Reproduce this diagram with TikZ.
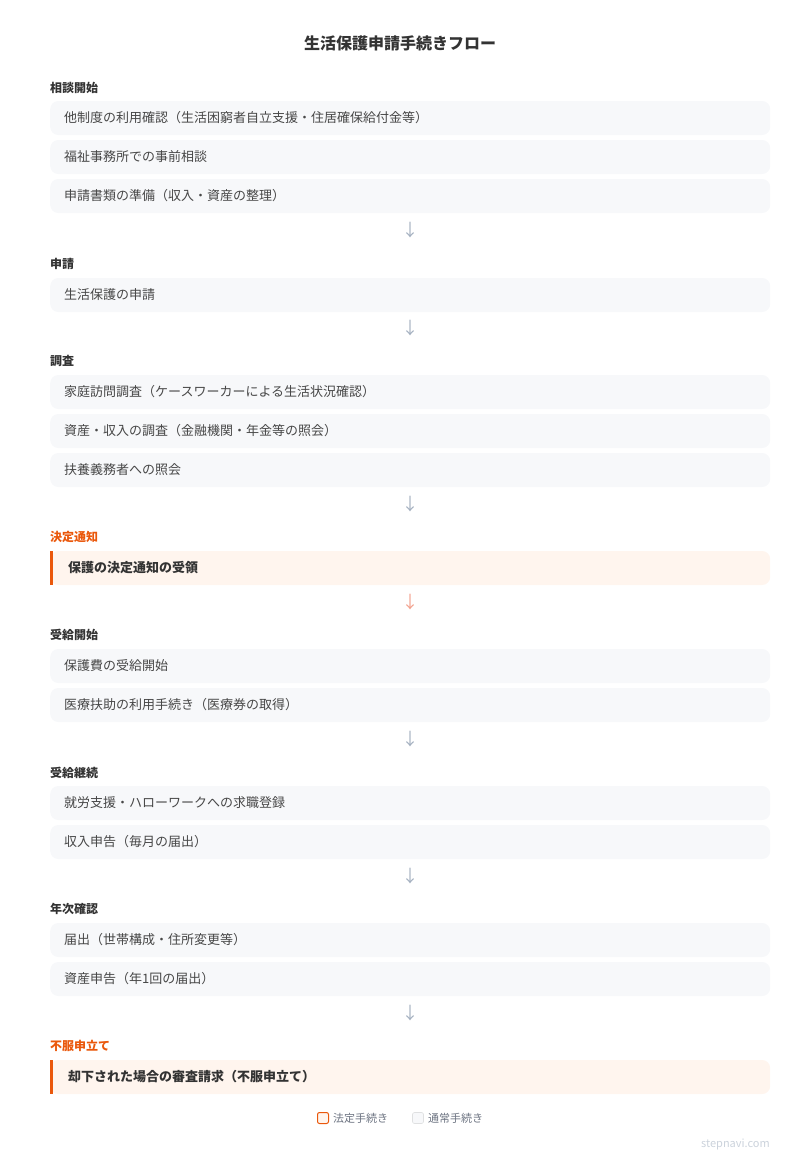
\documentclass[tikz,border=0pt]{standalone}
\usepackage{fontspec}
\setmainfont{Noto Sans CJK JP}
\usetikzlibrary{positioning}
\definecolor{txt}{HTML}{333333}
\definecolor{boxbg}{HTML}{F7F8FA}
\definecolor{accent}{HTML}{EA580C}
\definecolor{accentbg}{HTML}{FFF5EE}
\definecolor{arrowgray}{HTML}{A3AFBF}
\definecolor{arrowred}{HTML}{F2A08C}
\definecolor{legendtxt}{HTML}{6B7280}
\definecolor{stamp}{HTML}{CBD2DB}
\tikzset{
	steplabel/.style={anchor=west, inner sep=0pt, font=\fontsize{12}{14}\selectfont\bfseries, text=txt},
	stepbox/.style={anchor=west, fill=boxbg, rounded corners=8pt, minimum height=34pt, text width=692pt, inner xsep=14pt, inner ysep=0pt, align=left, font=\fontsize{13}{15}\selectfont, text=txt!90},
	legalbox/.style={stepbox, fill=accentbg, text width=684pt, inner xsep=18pt, align=left, font=\fontsize{13}{15}\selectfont\bfseries, text=txt},
	flowarrow/.style={inner sep=0pt, font=\fontsize{17}{17}\selectfont, text=arrowgray},
}
\begin{document}
\begin{tikzpicture}[x=1pt,y=1pt,yscale=-1,xscale=1]
	\useasboundingbox (0,0) rectangle (800,1171);
	% Title
	\node (title) [inner sep=0pt, font=\fontsize{16}{18}\selectfont\bfseries, text=txt] at (400,43) {生活保護申請手続きフロー};
	
	% 相談開始
	\node (lab1) [steplabel] at (50,88) {相談開始};
	\node (b11) [stepbox] at (50,118) {他制度の利用確認（生活困窮者自立支援・住居確保給付金等）};
	\node (b12) [stepbox] at (50,157) {福祉事務所での事前相談};
	\node (b13) [stepbox] at (50,196) {申請書類の準備（収入・資産の整理）};
	\node (ar1) [flowarrow] at (410,230) {↓};
	
	% 申請
	\node (lab2) [steplabel] at (50,264) {申請};
	\node (b21) [stepbox] at (50,295) {生活保護の申請};
	\node (ar2) [flowarrow] at (410,328) {↓};
	
	% 調査
	\node (lab3) [steplabel] at (50,361) {調査};
	\node (b31) [stepbox] at (50,392) {家庭訪問調査（ケースワーカーによる生活状況確認）};
	\node (b32) [stepbox] at (50,431) {資産・収入の調査（金融機関・年金等の照会）};
	\node (b33) [stepbox] at (50,470) {扶養義務者への照会};
	\node (ar3) [flowarrow] at (410,504) {↓};
	
	% 決定通知
	\node (lab4) [steplabel, text=accent] at (50,537) {決定通知};
	\node (b41) [legalbox] at (50,568) {保護の決定通知の受領};
	\fill [accent] (b41.north west) rectangle ([xshift=3pt]b41.south west);
	\node (ar4) [flowarrow, text=arrowred] at (410,602) {↓};
	
	% 受給開始
	\node (lab5) [steplabel] at (50,635) {受給開始};
	\node (b51) [stepbox] at (50,666) {保護費の受給開始};
	\node (b52) [stepbox] at (50,705) {医療扶助の利用手続き（医療券の取得）};
	\node (ar5) [flowarrow] at (410,739) {↓};
	
	% 受給継続
	\node (lab6) [steplabel] at (50,773) {受給継続};
	\node (b61) [stepbox] at (50,803) {就労支援・ハローワークへの求職登録};
	\node (b62) [stepbox] at (50,842) {収入申告（毎月の届出）};
	\node (ar6) [flowarrow] at (410,876) {↓};
	
	% 年次確認
	\node (lab7) [steplabel] at (50,909) {年次確認};
	\node (b71) [stepbox] at (50,940) {届出（世帯構成・住所変更等）};
	\node (b72) [stepbox] at (50,979) {資産申告（年1回の届出）};
	\node (ar7) [flowarrow] at (410,1013) {↓};
	
	% 不服申立て
	\node (lab8) [steplabel, text=accent] at (50,1046) {不服申立て};
	\node (b81) [legalbox] at (50,1077) {却下された場合の審査請求（不服申立て）};
	\fill [accent] (b81.north west) rectangle ([xshift=3pt]b81.south west);
	
	% Legend
	\node (leg1) [draw=accent, fill=accentbg, line width=1pt, rounded corners=2pt, minimum size=11pt, inner sep=0pt] at (323,1118) {};
	\node (leg1t) [right=4pt of leg1, inner sep=0pt, font=\fontsize{11}{13}\selectfont, text=legendtxt] {法定手続き};
	\node (leg2) [draw=boxbg!80!gray, fill=boxbg, line width=0.6pt, rounded corners=2pt, minimum size=11pt, inner sep=0pt] at (418,1118) {};
	\node (leg2t) [right=4pt of leg2, inner sep=0pt, font=\fontsize{11}{13}\selectfont, text=legendtxt] {通常手続き};
	
	% Footer
	\node (site) [anchor=east, inner sep=0pt, font=\fontsize{11}{13}\selectfont, text=stamp] at (770,1144) {stepnavi.com};
\end{tikzpicture}
\end{document}
